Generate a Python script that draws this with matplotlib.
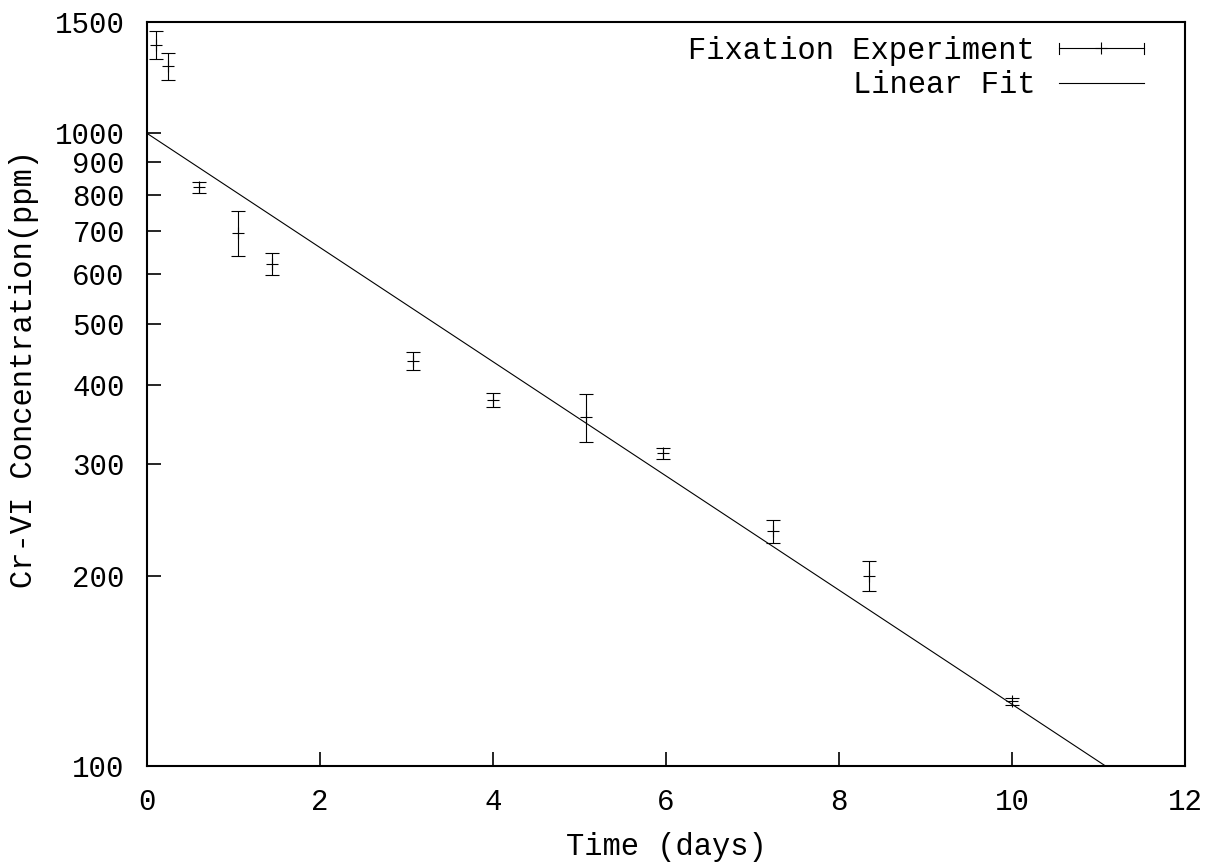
# Cr-VI fixation experiment: concentration vs time, log scale
import numpy as np
import matplotlib.pyplot as plt
from matplotlib.lines import Line2D
from matplotlib.legend_handler import HandlerBase

# Measured points
time_days = [0.1, 0.24, 0.6, 1.05, 1.44, 3.07, 4.0, 5.08, 5.97, 7.24, 8.35, 10.0]
conc_ppm = [1380, 1277, 822, 697, 622, 437, 379, 356, 312, 235, 200, 126.5]
conc_err = [70, 62, 17, 58, 24, 14, 10, 31, 6.5, 9.5, 11, 1.5]

# Fit: c(t) = a * exp(b * t)
fit_a = 1000.0
fit_b = -0.2078

y_ticks = [100, 200, 300, 400, 500, 600, 700, 800, 900, 1000, 1500]
x_ticks = [0, 2, 4, 6, 8, 10, 12]

plt.rcParams['font.family'] = ['Liberation Mono', 'DejaVu Sans Mono']
plt.rcParams['font.size'] = 21


# gnuplot style legend key for error bars: horizontal bar with caps
class GnuErrHandler(HandlerBase):
    def create_artists(self, legend, orig_handle, xdescent, ydescent,
                       width, height, fontsize, trans):
        y = height / 2.0 - ydescent
        x0 = -xdescent
        x1 = x0 + width
        c = 4
        arts = [
            Line2D([x0, x1], [y, y], color='k', lw=0.8),
            Line2D([x0, x0], [y - c, y + c], color='k', lw=0.8),
            Line2D([x1, x1], [y - c, y + c], color='k', lw=0.8),
            Line2D([(x0 + x1) / 2], [y], marker='+', ms=9, mew=0.8, color='k', ls='none'),
        ]
        for a in arts:
            a.set_transform(trans)
        return arts


fig = plt.figure(figsize=(12.11, 8.65), dpi=100)
ax = fig.add_axes([0.1214, 0.1145, 0.8571, 0.8601])

ax.errorbar(time_days, conc_ppm, yerr=conc_err, fmt='+', color='k',
            ms=9, mew=0.8, elinewidth=0.8, capsize=5, capthick=0.8)

tt = np.linspace(0, 12, 200)
fit_line, = ax.plot(tt, fit_a * np.exp(fit_b * tt), color='k', lw=0.8)

ax.set_yscale('log')
ax.set_xlim(0, 12)
ax.set_ylim(100, 1500)
ax.set_yticks(y_ticks)
ax.set_yticklabels([str(v) for v in y_ticks])
ax.yaxis.set_minor_locator(plt.NullLocator())
ax.set_xticks(x_ticks)

ax.tick_params(direction='in', length=10, width=1.2, top=False, right=False, pad=16)
for s in ax.spines.values():
    s.set_linewidth(1.5)

ax.set_xlabel('Time (days)', fontsize=22)
ax.set_ylabel('Cr-VI Concentration(ppm)', fontsize=22)
ax.xaxis.set_label_coords(0.5, -0.0886)
ax.yaxis.set_label_coords(-0.104, 0.533)

err_proxy = Line2D([], [], color='k')
ax.legend([err_proxy, fit_line], ['Fixation Experiment', 'Linear Fit'],
          handler_map={err_proxy: GnuErrHandler()},
          loc='upper right', bbox_to_anchor=(0.9605, 0.9812),
          frameon=False, markerfirst=False, borderpad=0, borderaxespad=0,
          handlelength=2.78, handletextpad=0.78, labelspacing=0.14,
          fontsize=22)

plt.savefig('out.png', dpi=100)
